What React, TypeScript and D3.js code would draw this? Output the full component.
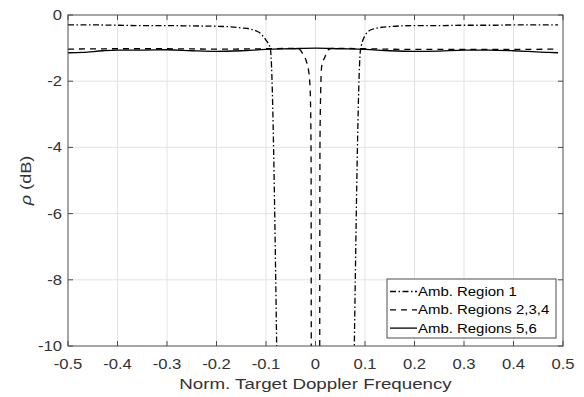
import React from "react";
import * as d3 from "d3";

const W = 584;
const H = 397;
const margin = { top: 15, right: 21, bottom: 51, left: 68 };

const xTicks = [-0.5, -0.4, -0.3, -0.2, -0.1, 0, 0.1, 0.2, 0.3, 0.4, 0.5];
const yTicks = [0, -2, -4, -6, -8, -10];

// Amb. Region 1 (dash-dot); null = out of range (below -10 dB)
const region1Freq = [-0.5, -0.45, -0.4, -0.35, -0.3, -0.25, -0.2, -0.17, -0.15, -0.13, -0.12, -0.11, -0.105, -0.1, -0.095, -0.092, -0.0905, -0.0775, 0, 0.0775, 0.0905, 0.093, 0.1, 0.105, 0.11, 0.12, 0.13, 0.15, 0.2, 0.25, 0.3, 0.35, 0.4, 0.45, 0.49];
const region1Val = [-0.3, -0.3, -0.31, -0.32, -0.32, -0.33, -0.34, -0.36, -0.39, -0.43, -0.48, -0.57, -0.66, -0.76, -0.88, -0.98, -1.1, -11, null, -11, -1.1, -0.9, -0.62, -0.52, -0.46, -0.41, -0.38, -0.35, -0.32, -0.32, -0.31, -0.31, -0.3, -0.3, -0.3];

// Amb. Regions 2,3,4 (dashed)
const region234Freq = [-0.5, -0.4, -0.3, -0.2, -0.1, -0.05, -0.035, -0.03, -0.025, -0.018, -0.013, -0.0105, -0.009, -0.0085, 0, 0.0085, 0.009, 0.0105, 0.0125, 0.019, 0.026, 0.035, 0.05, 0.1, 0.2, 0.3, 0.4, 0.49];
const region234Val = [-1.03, -1.02, -1.02, -1.03, -1.02, -1.01, -1.02, -1.07, -1.2, -1.42, -1.8, -2.4, -4, -11, null, -11, -4, -2.3, -1.55, -1.27, -1.05, -1.01, -1.01, -1.02, -1.04, -1.04, -1.04, -1.03];

// Amb. Regions 5,6 (solid)
const region56Freq = [-0.5, -0.47, -0.43, -0.4, -0.35, -0.3, -0.25, -0.2, -0.15, -0.1, -0.05, 0, 0.05, 0.1, 0.15, 0.2, 0.25, 0.3, 0.35, 0.4, 0.43, 0.47, 0.49];
const region56Val = [-1.14, -1.13, -1.08, -1.06, -1.06, -1.05, -1.08, -1.1, -1.08, -1.04, -1.02, -1.0, -1.02, -1.04, -1.08, -1.1, -1.09, -1.06, -1.06, -1.08, -1.1, -1.13, -1.14];

const legendLabels = ["Amb. Region 1", "Amb. Regions 2,3,4", "Amb. Regions 5,6"];
const dashes = ["6,2.5,1.5,2.5", "6,5", null];

const FONT = "Arial, 'Liberation Sans', Helvetica, sans-serif";

type STProps = {
  x: number;
  y: number;
  size: number;
  stretch: number;
  anchor?: "start" | "middle" | "end";
  rotate?: number;
  fill?: string;
  children: React.ReactNode;
};

function StretchText({ x, y, size, stretch, anchor = "start", rotate = 0, fill = "#333", children }: STProps) {
  return (
    <g transform={`translate(${x},${y}) rotate(${rotate}) scale(${stretch},1)`}>
      <text x={0} y={0} textAnchor={anchor} fontFamily={FONT} fontSize={size} fill={fill}>
        {children}
      </text>
    </g>
  );
}

export default function App() {
  const iw = W - margin.left - margin.right;
  const ih = H - margin.top - margin.bottom;
  const x = d3.scaleLinear().domain([-0.5, 0.5]).range([margin.left, margin.left + iw]);
  const y = d3.scaleLinear().domain([-10, 0]).range([margin.top + ih, margin.top]);

  const mk = (fr: number[], vals: (number | null)[]) =>
    fr.map((f, i) => ({ f, v: vals[i] }));
  const line = d3
    .line<{ f: number; v: number | null }>()
    .defined((d) => d.v !== null)
    .x((d) => x(d.f))
    .y((d) => y(d.v as number))
    .curve(d3.curveMonotoneX);

  const series = [
    mk(region1Freq, region1Val),
    mk(region234Freq, region234Val),
    mk(region56Freq, region56Val),
  ];

  const axisColor = "#4d4d4d";
  const textColor = "#333";
  const left = margin.left;
  const right = margin.left + iw;
  const top = margin.top;
  const bottom = margin.top + ih;

  const lg = { x: 387, y: 279, w: 169, h: 59 };

  return (
    <div style={{ position: "fixed", left: 0, top: 0 }}>
      <svg width={W} height={H} style={{ display: "block", background: "#fff" }}>
        <defs>
          <clipPath id="plotClip">
            <rect x={left} y={top} width={iw} height={ih} />
          </clipPath>
        </defs>
        {/* grid */}
        {xTicks.slice(1, -1).map((t) => (
          <line key={"gx" + t} x1={x(t)} x2={x(t)} y1={top} y2={bottom} stroke="#e3e3e3" strokeWidth={1} />
        ))}
        {yTicks.slice(1, -1).map((t) => (
          <line key={"gy" + t} x1={left} x2={right} y1={y(t)} y2={y(t)} stroke="#e3e3e3" strokeWidth={1} />
        ))}
        {/* lines */}
        <g clipPath="url(#plotClip)">
          {series.map((s, i) => (
            <path
              key={i}
              d={line(s) || ""}
              fill="none"
              stroke="#000"
              strokeWidth={1.3}
              strokeDasharray={dashes[i] || undefined}
            />
          ))}
        </g>
        {/* axes box */}
        <rect x={left} y={top} width={iw} height={ih} fill="none" stroke={axisColor} strokeWidth={1} />
        {/* ticks */}
        {xTicks.map((t) => (
          <g key={"tx" + t}>
            <line x1={x(t)} x2={x(t)} y1={bottom} y2={bottom - 5} stroke={axisColor} />
            <line x1={x(t)} x2={x(t)} y1={top} y2={top + 5} stroke={axisColor} />
            <StretchText x={x(t)} y={bottom + 23} size={14} stretch={1.19} anchor="middle" fill={textColor}>
              {t === 0 ? "0" : d3.format(".1f")(t).replace("−", "-")}
            </StretchText>
          </g>
        ))}
        {yTicks.map((t) => (
          <g key={"ty" + t}>
            <line x1={left} x2={left + 5} y1={y(t)} y2={y(t)} stroke={axisColor} />
            <line x1={right} x2={right - 5} y1={y(t)} y2={y(t)} stroke={axisColor} />
            <StretchText x={left - 6} y={y(t) + 5} size={14} stretch={1.19} anchor="end" fill={textColor}>
              {String(t)}
            </StretchText>
          </g>
        ))}
        {/* axis labels */}
        <StretchText x={(left + right) / 2} y={389} size={15.5} stretch={1.21} anchor="middle" fill={textColor}>
          Norm. Target Doppler Frequency
        </StretchText>
        <StretchText x={31} y={(top + bottom) / 2} size={15.5} stretch={1.17} anchor="middle" rotate={-90} fill={textColor}>
          <tspan fontStyle="italic">ρ</tspan> (dB)
        </StretchText>
        {/* legend */}
        <rect x={lg.x} y={lg.y} width={lg.w} height={lg.h} fill="#fff" stroke={axisColor} strokeWidth={1} />
        {legendLabels.map((lab, i) => {
          const ly = lg.y + 12.5 + i * 18.3;
          return (
            <g key={lab}>
              <line x1={lg.x + 3} x2={lg.x + 30} y1={ly} y2={ly} stroke="#000" strokeWidth={1.3} strokeDasharray={dashes[i] || undefined} />
              <StretchText x={lg.x + 31} y={ly + 4.5} size={13} stretch={1.15} fill="#000">
                {lab}
              </StretchText>
            </g>
          );
        })}
      </svg>
    </div>
  );
}
